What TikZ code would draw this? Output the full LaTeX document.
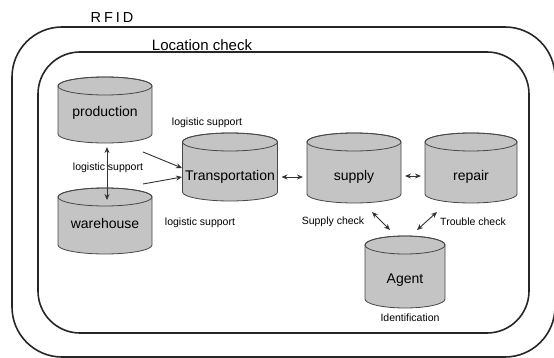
\documentclass[tikz,border=0pt]{standalone}
\usepackage{fontspec}
\setmainfont{Liberation Sans}
\usetikzlibrary{arrows.meta,calc}
% \drum{node}{half width}{end radius}: a gray drum over a named box node
\newcommand\drum[3]{%
  \filldraw[drumline]
    ([yshift=-#3]#1.north west) -- ([yshift=#3]#1.south west)
    arc[start angle=180, end angle=360, x radius=#2, y radius=#3]
    -- ([yshift=-#3]#1.north east)
    arc[start angle=0, end angle=180, x radius=#2, y radius=#3] -- cycle;
  \draw[drumline, fill=none] ([yshift=-#3]#1.north) ellipse[x radius=#2, y radius=#3];
}
\begin{document}
\begin{tikzpicture}[x=1pt,y=-1pt,
  drumline/.style={draw=black!72, line width=0.8pt, fill=black!23},
  slot/.style={inner sep=0pt, outer sep=0pt},
  frame/.style={draw=black!85, line width=1.6pt, inner sep=0pt},
  tag/.style={font=\fontsize{10.5}{12}\selectfont, inner sep=0pt},
  drumtext/.style={font=\fontsize{14}{16}\selectfont, inner sep=0pt},
  link/.style={line width=0.9pt, draw=black!80, {Stealth[length=6pt,width=5pt]}-{Stealth[length=6pt,width=5pt]}},
  feed/.style={line width=0.9pt, draw=black!80, -{Stealth[length=6pt,width=5pt]}}
]
\useasboundingbox (0,0) rectangle (554,358);

% nested RFID / location-check zones
\node[frame, rounded corners=50pt, minimum width=543pt, minimum height=330pt] (rfid) at (283.5,192) {};
\node[frame, rounded corners=42pt, minimum width=491pt, minimum height=281pt] (loc) at (283.5,192.5) {};
\node[font=\fontsize{14.5}{16}\selectfont\addfontfeature{LetterSpace=20}, inner sep=0pt] (rfidlbl) at (112,18) {RFID};
\node[font=\fontsize{15}{17}\selectfont, inner sep=0pt] (loclbl) at (202,45) {Location check};

% storage drums
\node[slot, minimum width=94pt, minimum height=66pt] (prod) at (105,110) {};
\node[slot, minimum width=94pt, minimum height=66pt] (ware) at (105,221) {};
\node[slot, minimum width=95pt, minimum height=68pt] (trans) at (230,167) {};
\node[slot, minimum width=94pt, minimum height=70pt] (supply) at (354,168) {};
\node[slot, minimum width=92pt, minimum height=70pt] (repair) at (471,168) {};
\node[slot, minimum width=80pt, minimum height=72pt] (agent) at (405,272) {};
\drum{prod}{47pt}{9pt}
\drum{ware}{47pt}{9pt}
\drum{trans}{47.5pt}{9pt}
\drum{supply}{47pt}{9pt}
\drum{repair}{46pt}{9pt}
\drum{agent}{40pt}{9pt}

\node[drumtext] at ($(prod.center)+(0,3)$) {production};
\node[drumtext] at ($(ware.center)+(0,2.5)$) {warehouse};
\node[drumtext] at ($(trans.center)+(0,10)$) {Transportation};
\node[drumtext] at ($(supply.center)+(0,9)$) {supply};
\node[drumtext] at ($(repair.center)+(0,9)$) {repair};
\node[drumtext] at ($(agent.center)+(0,8)$) {Agent};

% connectors
\draw[link] ($(prod.center)+(2,37)$) -- ($(ware.center)+(2,-21)$);
\draw[feed] ($(prod.center)+(38,42)$) -- ($(trans.center)+(-48,1)$);
\draw[feed] ($(ware.center)+(38,-37)$) -- ($(trans.center)+(-48,10)$);
\draw[link] ($(trans.east)+(4,10)$) -- ($(supply.west)+(-4,9)$);
\draw[link] ($(supply.east)+(4,8)$) -- ($(repair.west)+(-4,8)$);
\draw[link] ($(supply.center)+(18,44)$) -- ($(agent.center)+(-15,-42)$);
\draw[link] ($(repair.center)+(-34,44)$) -- ($(agent.center)+(12,-42)$);

% labels
\node[tag] (ls1) at (207,123) {logistic support};
\node[tag] (ls2) at (108,168) {logistic support};
\node[tag] (ls3) at (200,223) {logistic support};
\node[tag] (sc) at (333,222) {Supply check};
\node[tag] (tc) at (473,222) {Trouble check};
\node[tag] (idl) at (410,318) {Identification};
\end{tikzpicture}
\end{document}
